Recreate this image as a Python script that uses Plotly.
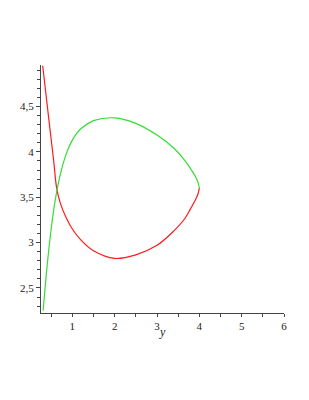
import plotly.graph_objects as go

red_x = [0.30, 0.45, 0.56, 0.63, 0.72, 0.85, 1.00, 1.20, 1.50, 2.00, 2.50, 3.00, 3.40, 3.65, 3.80, 3.90, 3.965, 4.00]
red_y = [4.95, 4.34, 3.90, 3.60, 3.43, 3.28, 3.15, 3.03, 2.91, 2.826, 2.865, 2.97, 3.13, 3.26, 3.38, 3.465, 3.53, 3.60]

green_x = [0.31, 0.40, 0.50, 0.60, 0.70, 0.85, 1.00, 1.20, 1.50, 2.00, 2.50, 3.00, 3.40, 3.65, 3.80, 3.90, 3.965, 4.00]
green_y = [2.25, 2.72, 3.15, 3.48, 3.72, 3.97, 4.13, 4.255, 4.345, 4.375, 4.315, 4.185, 4.04, 3.91, 3.81, 3.735, 3.67, 3.60]

x_ticks = [1, 2, 3, 4, 5, 6]
x_ticktext = ["1", "2", "3", "4", "5", "6"]
y_ticks = [2.5, 3, 3.5, 4, 4.5]
y_ticktext = ["2,5", "3", "3,5", "4", "4,5"]

fig = go.Figure()
fig.add_trace(go.Scatter(x=red_x, y=red_y, mode="lines",
                         line=dict(color="#ff1a1a", width=1.2, shape="spline", smoothing=1.0),
                         showlegend=False))
fig.add_trace(go.Scatter(x=green_x, y=green_y, mode="lines",
                         line=dict(color="#33dd33", width=1.2, shape="spline", smoothing=1.0),
                         showlegend=False))

serif = "Liberation Serif"
axis_font = dict(family=serif, size=11, color="#222")
fig.update_layout(
    width=301, height=392,
    margin=dict(l=30, r=25, t=57, b=87),
    paper_bgcolor="white", plot_bgcolor="white",
    xaxis=dict(range=[0.26, 6.0], showgrid=False, zeroline=False,
               showline=True, linecolor="#444", linewidth=1,
               tickmode="array", tickvals=x_ticks, ticktext=x_ticktext,
               ticks="outside", ticklen=3, tickcolor="#444", tickfont=axis_font,
               minor=dict(dtick=0.5, tick0=0, ticks="outside", ticklen=3, tickcolor="#444")),
    yaxis=dict(range=[2.224, 4.958], showgrid=False, zeroline=False,
               showline=True, linecolor="#444", linewidth=1,
               tickmode="array", tickvals=y_ticks, ticktext=y_ticktext,
               ticks="outside", ticklen=4, tickcolor="#444", tickfont=axis_font,
               minor=dict(dtick=0.1, tick0=0, ticks="outside", ticklen=3, tickcolor="#444")),
    annotations=[dict(text="<i>y</i>", xref="paper", yref="paper", x=0.5, y=-0.076,
                      xanchor="center", yanchor="middle", showarrow=False,
                      font=dict(family=serif, size=12, color="#222"))],
)

fig.write_html("out.html")
